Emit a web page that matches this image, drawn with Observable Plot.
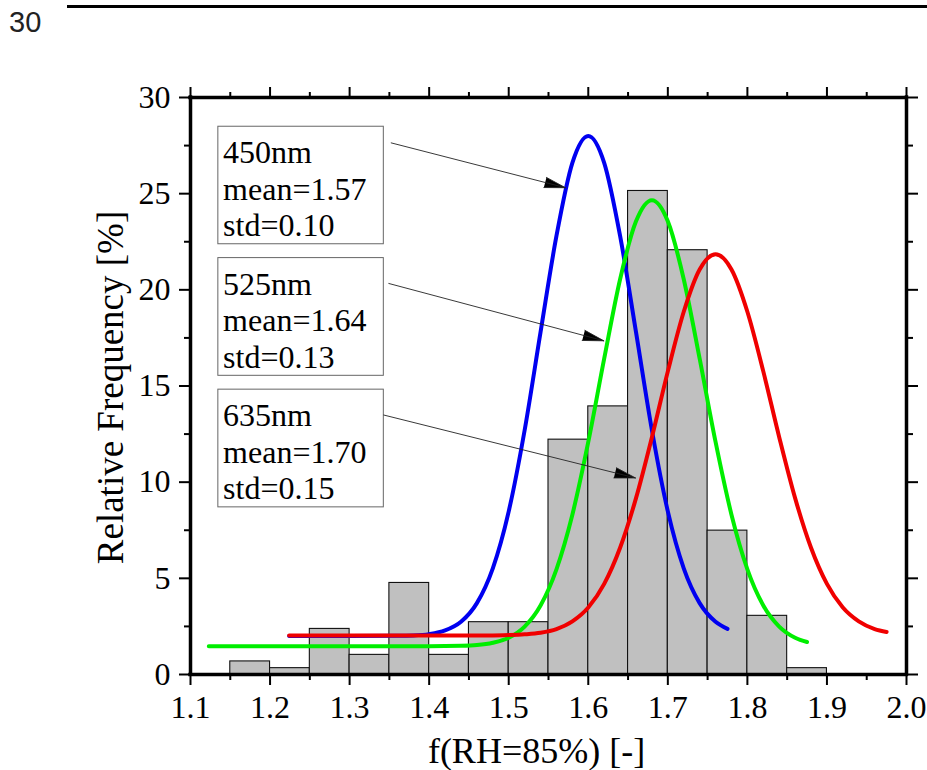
<!DOCTYPE html>
<html>
<head>
<meta charset="utf-8">
<script src="https://cdn.jsdelivr.net/npm/d3@7"></script>
<script src="https://cdn.jsdelivr.net/npm/@observablehq/plot@0.6"></script>
<style>
  body { margin: 0; background: #fff; }
  #wrap { position: relative; width: 927px; height: 770px; overflow: hidden; }
  #pagenum { position: absolute; left: 9px; top: 8px; font-family: "Liberation Sans", Arial, sans-serif; font-size: 29px; line-height: 28px; color: #222; }
  #toprule { position: absolute; left: 67px; top: 5px; width: 860px; height: 2.5px; background: #000; }
  #chart { position: absolute; left: 0; top: 0; }
  #chart svg text { font-family: "Liberation Serif", "Times New Roman", serif; }
</style>
</head>
<body>
<div id="wrap">
  <div id="chart"></div>
  <div id="toprule"></div>
  <div id="pagenum">30</div>
</div>
<script>
// ---- histogram (bin edges and relative frequency, %) ----
const binLo = [1.15, 1.20, 1.25, 1.30, 1.35, 1.40, 1.45, 1.50, 1.55, 1.60, 1.65, 1.70, 1.75, 1.80, 1.85];
const binHi = [1.20, 1.25, 1.30, 1.35, 1.40, 1.45, 1.50, 1.55, 1.60, 1.65, 1.70, 1.75, 1.80, 1.85, 1.90];
const freq  = [0.68, 0.33, 2.37, 1.02, 4.76, 1.02, 2.72, 2.72, 12.21, 13.94, 25.14, 22.06, 7.48, 3.05, 0.33];

// ---- fitted curves ----
const blueX = [1.224, 1.30, 1.36, 1.38, 1.40, 1.42, 1.44, 1.46, 1.48, 1.50, 1.52, 1.54, 1.56, 1.58, 1.60, 1.62, 1.64, 1.66, 1.68, 1.70, 1.72, 1.74, 1.76, 1.775];
const blueY = [2.0, 2.0, 2.01, 2.03, 2.1, 2.29, 2.74, 3.71, 5.52, 8.48, 12.7, 17.8, 22.8, 26.6, 28.0, 26.6, 22.8, 17.8, 12.7, 8.48, 5.52, 3.71, 2.74, 2.37];

const greenX = [1.123, 1.20, 1.30, 1.40, 1.44, 1.46, 1.48, 1.50, 1.52, 1.54, 1.56, 1.58, 1.60, 1.62, 1.64, 1.66, 1.68, 1.70, 1.72, 1.74, 1.76, 1.78, 1.80, 1.82, 1.84, 1.86, 1.875];
const greenY = [1.47, 1.47, 1.47, 1.47, 1.49, 1.53, 1.65, 1.91, 2.49, 3.59, 5.47, 8.31, 12.09, 16.42, 20.55, 23.56, 24.66, 23.56, 20.55, 16.42, 12.09, 8.31, 5.47, 3.59, 2.49, 1.91, 1.69];

const redX = [1.224, 1.30, 1.40, 1.48, 1.50, 1.52, 1.54, 1.56, 1.58, 1.60, 1.62, 1.64, 1.66, 1.68, 1.70, 1.72, 1.74, 1.76, 1.78, 1.80, 1.82, 1.84, 1.86, 1.88, 1.90, 1.92, 1.94, 1.96, 1.975];
const redY = [2.03, 2.03, 2.03, 2.03, 2.05, 2.09, 2.17, 2.36, 2.76, 3.48, 4.71, 6.59, 9.17, 12.34, 15.76, 18.86, 21.06, 21.85, 21.06, 18.86, 15.76, 12.34, 9.17, 6.59, 4.71, 3.48, 2.76, 2.36, 2.21];

// ---- annotation boxes ----
const boxLabels = ["450nm\nmean=1.57\nstd=0.10", "525nm\nmean=1.64\nstd=0.13", "635nm\nmean=1.70\nstd=0.15"];
const boxLeft = [1.135, 1.135, 1.135];
const boxRight = [1.343, 1.343, 1.343];
const boxTop = [28.48, 21.65, 14.81];
const boxBottom = [22.37, 15.53, 8.69];
const textLeft = [1.141, 1.141, 1.141];

// ---- arrows (start -> tip on curve) ----
const arrowX1 = [1.3523, 1.3493, 1.343];
const arrowY1 = [27.64, 20.33, 13.49];
const arrowX2 = [1.5713, 1.6195, 1.6593];
const arrowY2 = [25.31, 17.35, 10.22];

// ---- axes ----
const xTicks = [1.1, 1.2, 1.3, 1.4, 1.5, 1.6, 1.7, 1.8, 1.9, 2.0];
const xMinor = [1.15, 1.25, 1.35, 1.45, 1.55, 1.65, 1.75, 1.85, 1.95];
const yTicks = [0, 5, 10, 15, 20, 25, 30];
const yMinor = [2.5, 7.5, 12.5, 17.5, 22.5, 27.5];
const xTitle = "f(RH=85%) [-]";
const yTitle = "Relative Frequency [%]";

const bins = binLo.map((lo, i) => ({lo, hi: binHi[i], f: freq[i]}));
const toPts = (xs, ys) => xs.map((x, i) => ({x, y: ys[i]}));
const boxes = boxLabels.map((label, i) => ({label, x1: boxLeft[i], x2: boxRight[i], y1: boxBottom[i], y2: boxTop[i], tx: textLeft[i]}));
const arrows = arrowX1.map((x1, i) => ({x1, y1: arrowY1[i], x2: arrowX2[i], y2: arrowY2[i]}));

const serif = '"Liberation Serif", "Times New Roman", serif';
const noText = () => "";

const plot = Plot.plot({
  width: 927,
  height: 770,
  marginLeft: 190,
  marginRight: 21,
  marginTop: 97,
  marginBottom: 96,
  x: {domain: [1.1, 2.0], label: null},
  y: {domain: [0, 30], label: null},
  style: {fontFamily: serif, background: "transparent", color: "#000", overflow: "visible"},
  marks: [
    Plot.rectY(bins, {x1: "lo", x2: "hi", y: "f", fill: "#c0c0c0", stroke: "#111", strokeWidth: 1.1}),
    Plot.line(toPts(blueX, blueY), {x: "x", y: "y", stroke: "#0000f0", strokeWidth: 4, curve: "monotone-x"}),
    Plot.line(toPts(greenX, greenY), {x: "x", y: "y", stroke: "#00ee00", strokeWidth: 4, curve: "monotone-x"}),
    Plot.line(toPts(redX, redY), {x: "x", y: "y", stroke: "#f00000", strokeWidth: 4, curve: "monotone-x"}),
    Plot.rect(boxes, {x1: "x1", x2: "x2", y1: "y1", y2: "y2", fill: "white", stroke: "#666", strokeWidth: 1}),
    Plot.text(boxes, {x: "tx", y: "y2", text: "label", textAnchor: "start", lineAnchor: "top", lineHeight: 1.14, fontSize: 32, fontFamily: serif, dy: 10.6, fill: "#000"}),
    Plot.arrow(arrows, {x1: "x1", y1: "y1", x2: "x2", y2: "y2", stroke: "#222", fill: "#000", strokeWidth: 0.9, headLength: 36, headAngle: 28}),
    Plot.ruleY([0, 30], {stroke: "#000", strokeWidth: 3.5, strokeLinecap: "square"}),
    Plot.ruleX([1.1, 2.0], {stroke: "#000", strokeWidth: 3.5, strokeLinecap: "square"}),
    Plot.axisX(xTicks, {anchor: "bottom", tickSize: 11, tickPadding: 10, tickFormat: d3.format(".1f"), fontSize: 32, fontFamily: serif, strokeWidth: 2, label: null}),
    Plot.axisX(xMinor, {anchor: "bottom", tickSize: 6, tickFormat: noText, strokeWidth: 2, label: null}),
    Plot.axisX(xTicks, {anchor: "top", tickSize: 11, tickFormat: noText, strokeWidth: 2, label: null}),
    Plot.axisX(xMinor, {anchor: "top", tickSize: 6, tickFormat: noText, strokeWidth: 2, label: null}),
    Plot.axisY(yTicks, {anchor: "left", tickSize: 11, tickPadding: 9, fontSize: 32, fontFamily: serif, strokeWidth: 2, label: null}),
    Plot.axisY(yMinor, {anchor: "left", tickSize: 6, tickFormat: noText, strokeWidth: 2, label: null}),
    Plot.axisY(yTicks, {anchor: "right", tickSize: 11, tickFormat: noText, strokeWidth: 2, label: null}),
    Plot.axisY(yMinor, {anchor: "right", tickSize: 6, tickFormat: noText, strokeWidth: 2, label: null}),
    Plot.text([xTitle], {frameAnchor: "bottom", text: d => d, fontSize: 36, fontFamily: serif, textAnchor: "middle", lineAnchor: "middle", dx: -12, dy: 76.5, fill: "#000"}),
    Plot.text([yTitle], {frameAnchor: "left", text: d => d, fontSize: 37, fontFamily: serif, rotate: -90, textAnchor: "middle", lineAnchor: "middle", dx: -79, dy: 1.5, fill: "#000"})
  ]
});
document.getElementById("chart").appendChild(plot);
</script>
</body>
</html>
